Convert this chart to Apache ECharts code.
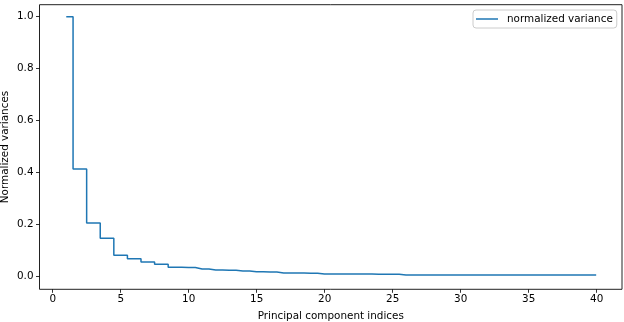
<!DOCTYPE html>
<html>
<head>
    <meta charset="UTF-8">
    <title>normalized variance</title>
    <script src="https://cdn.jsdelivr.net/npm/echarts@6.0.0/dist/echarts.min.js"></script>
    <style>
        html, body { margin: 0; padding: 0; background: #fff; }
        #main { width: 624px; height: 322px; }
    </style>
</head>
<body>
    <div id="main"></div>
    <script>
        // data
        var components = [1, 2, 3, 4, 5, 6, 7, 8, 9, 10,
                          11, 12, 13, 14, 15, 16, 17, 18, 19, 20,
                          21, 22, 23, 24, 25, 26, 27, 28, 29, 30,
                          31, 32, 33, 34, 35, 36, 37, 38, 39, 40];
        var variances = [1.0, 0.415, 0.208, 0.149, 0.084, 0.070, 0.058, 0.049, 0.038, 0.037,
                         0.031, 0.027, 0.026, 0.023, 0.020, 0.019, 0.016, 0.016, 0.015, 0.012,
                         0.012, 0.012, 0.012, 0.011, 0.011, 0.0075, 0.0075, 0.0075, 0.0075, 0.0075,
                         0.0075, 0.0075, 0.0075, 0.0075, 0.0075, 0.0075, 0.0075, 0.0075, 0.0075, 0.0075];
        var xTicks = [0, 5, 10, 15, 20, 25, 30, 35, 40];
        var yTicks = ['0.0', '0.2', '0.4', '0.6', '0.8', '1.0'];

        var font = { fontFamily: 'DejaVu Sans', fontSize: 10.4, color: '#000' };
        var tickStyle = { show: true, inside: false, length: 3.5, lineStyle: { color: '#000', width: 0.8 } };

        var chart = echarts.init(document.getElementById('main'));
        chart.setOption({
            animation: false,
            backgroundColor: '#fff',
            textStyle: { fontFamily: 'DejaVu Sans' },
            grid: [
                // frame + data
                { left: 39.5, right: 2, top: 4.7, bottom: 32.7, outerBoundsMode: 'none', containLabel: false,
                  show: true, borderColor: '#222', borderWidth: 1, backgroundColor: 'transparent' },
                // x ticks (0..40)
                { left: 52.7, right: 27.3, top: 4.7, bottom: 32.7, outerBoundsMode: 'none', containLabel: false },
                // y ticks (0..1)
                { left: 39.5, right: 2, top: 16.7, bottom: 45.3, outerBoundsMode: 'none', containLabel: false }
            ],
            xAxis: [
                {
                    gridIndex: 0, type: 'value', min: -0.97, max: 41.9,
                    axisLine: { show: false }, axisTick: { show: false }, axisLabel: { show: false }, splitLine: { show: false },
                    name: 'Principal component indices', nameLocation: 'middle', nameGap: 22,
                    nameTextStyle: font
                },
                {
                    gridIndex: 1, type: 'value', min: xTicks[0], max: xTicks[xTicks.length - 1], interval: 5,
                    axisLine: { show: false }, axisTick: tickStyle, splitLine: { show: false },
                    axisLabel: Object.assign({ margin: 5 }, font)
                },
                { gridIndex: 2, type: 'value', show: false }
            ],
            yAxis: [
                {
                    gridIndex: 0, type: 'value', min: -0.047, max: 1.046,
                    axisLine: { show: false }, axisTick: { show: false }, axisLabel: { show: false }, splitLine: { show: false },
                    name: 'Normalized variances', nameLocation: 'middle', nameGap: 29, nameRotate: 90,
                    nameTextStyle: font
                },
                { gridIndex: 1, type: 'value', show: false },
                {
                    gridIndex: 2, type: 'value', min: 0, max: 1, interval: 0.2,
                    axisLine: { show: false }, axisTick: tickStyle, splitLine: { show: false },
                    axisLabel: Object.assign({
                        margin: 6,
                        formatter: function (v) { return yTicks[Math.round(v / 0.2)]; }
                    }, font)
                }
            ],
            legend: {
                left: 473, top: 10,
                padding: [4, 4, 4, 3],
                selectedMode: false,
                backgroundColor: '#fff',
                borderColor: '#ccc', borderWidth: 1, borderRadius: 3,
                icon: 'rect', itemWidth: 22, itemHeight: 1.5,
                textStyle: Object.assign({ padding: [0, 0, 0, 4] }, font),
                data: ['normalized variance']
            },
            series: [{
                name: 'normalized variance',
                type: 'line',
                step: 'middle',
                xAxisIndex: 0, yAxisIndex: 0,
                showSymbol: false, symbol: 'none',
                lineStyle: { color: '#1f77b4', width: 1.5 },
                itemStyle: { color: '#1f77b4' },
                data: components.map(function (c, i) { return [c, variances[i]]; })
            }]
        });
    </script>
</body>
</html>
